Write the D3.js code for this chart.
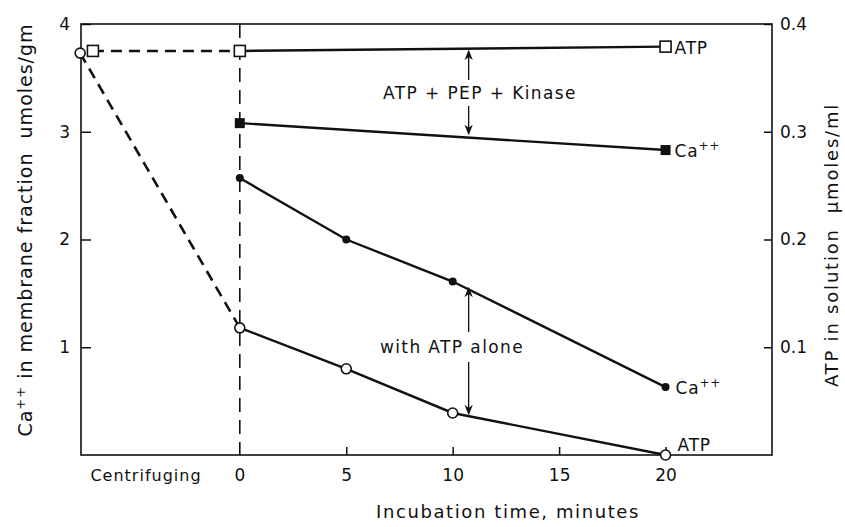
<!DOCTYPE html>
<html><head><meta charset="utf-8">
<script src="https://cdn.jsdelivr.net/npm/d3@7"></script>
<style>
html,body{margin:0;padding:0;background:#fff;}
svg text{font-family:"DejaVu Sans","Liberation Sans",sans-serif;fill:#111;}
</style></head>
<body><svg id="c" width="845" height="527"></svg>
<script>
// ---- data ----
const xTicks = [0, 5, 10, 15, 20];
const leftTicks = [1, 2, 3, 4];
const rightTicks = [0.1, 0.2, 0.3, 0.4];
const centrifugingLabel = "Centrifuging";
// ATP with PEP + kinase (right axis, µmoles/ml), open squares
const atpKinaseX = [-6.9, 0, 20];
const atpKinaseY = [0.375, 0.375, 0.379];
// Ca++ with PEP + kinase (left axis, µmoles/gm), filled squares
const caKinaseX = [0, 20];
const caKinaseY = [3.08, 2.83];
// Ca++ with ATP alone, filled circles
const caAloneX = [0, 5, 10, 20];
const caAloneY = [2.57, 2.0, 1.61, 0.63];
// ATP alone (right axis), open circles
const atpAloneX = [-7.5, 0, 5, 10, 20];
const atpAloneY = [0.373, 0.118, 0.080, 0.039, 0.0];

const svg = d3.select("#c");
const L = 81, R = 772, T = 24, B = 455;
const x = d3.scaleLinear().domain([-7.46, 25]).range([L, R]);
const yL = d3.scaleLinear().domain([0, 4]).range([B, T]);
const yR = d3.scaleLinear().domain([0, 0.4]).range([B, T]);

// frame
svg.append("rect").attr("x", L).attr("y", T).attr("width", R - L).attr("height", B - T)
  .attr("fill", "none").attr("stroke", "#111").attr("stroke-width", 1.6);

// axes
const fs = "17px";
const gl = svg.append("g").attr("transform", `translate(${L},0)`)
  .call(d3.axisLeft(yL).tickValues(leftTicks).tickSize(-10).tickPadding(11).tickFormat(d3.format("d")));
const gr = svg.append("g").attr("transform", `translate(${R},0)`)
  .call(d3.axisRight(yR).tickValues(rightTicks).tickSize(-8).tickPadding(8).tickFormat(d3.format(".1f")));
const gb = svg.append("g").attr("transform", `translate(0,${B})`)
  .call(d3.axisBottom(x).tickValues(xTicks.slice(1)).tickSize(-8).tickPadding(16).tickFormat(d3.format("d")));
[gl, gr, gb].forEach(g => {
  g.select(".domain").remove();
  g.selectAll(".tick line").attr("stroke", "#111").attr("stroke-width", 1.5);
  g.selectAll(".tick text").style("font-size", fs).attr("font-family", null).attr("fill", "#111");
});
gb.selectAll(".tick text").attr("dy", null).attr("y", 26);
svg.append("text").attr("x", x(0)).attr("y", B + 26).attr("text-anchor", "middle").style("font-size", fs).text(xTicks[0]);
svg.append("text").attr("x", 146).attr("y", B + 26).attr("text-anchor", "middle")
  .style("font-size", "16px").style("letter-spacing", "1px").text(centrifugingLabel);

// titles
svg.append("text").attr("x", 508).attr("y", 518).attr("text-anchor", "middle")
  .style("font-size", "18px").style("letter-spacing", "1.6px").text("Incubation time, minutes");
const lt = svg.append("text").attr("transform", "translate(32,230) rotate(-90)").attr("text-anchor", "middle")
  .style("font-size", "19px").style("letter-spacing", "1px");
lt.append("tspan").text("Ca");
lt.append("tspan").attr("dy", -7).style("font-size", "13px").text("++");
lt.append("tspan").attr("dy", 7).text(" in membrane fraction\u00a0\u00a0umoles/gm");
svg.append("text").attr("transform", "translate(838,245) rotate(-90)").attr("text-anchor", "middle")
  .style("font-size", "18px").style("letter-spacing", "1.8px").text("ATP in solution\u00a0\u00a0μmoles/ml");

// vertical dashed line at time 0
svg.append("line").attr("x1", x(0)).attr("x2", x(0)).attr("y1", T).attr("y2", B)
  .attr("stroke", "#111").attr("stroke-width", 1.6).attr("stroke-dasharray", "14,8");

function series(xs, ys, yScale, dashedFirst) {
  const pts = xs.map((v, i) => [x(v), yScale(ys[i])]);
  const line = d3.line();
  if (dashedFirst) {
    svg.append("path").attr("d", line(pts.slice(0, 2))).attr("fill", "none")
      .attr("stroke", "#111").attr("stroke-width", 2.6).attr("stroke-dasharray", "11,7");
    svg.append("path").attr("d", line(pts.slice(1))).attr("fill", "none")
      .attr("stroke", "#111").attr("stroke-width", 2.4);
  } else {
    svg.append("path").attr("d", line(pts)).attr("fill", "none")
      .attr("stroke", "#111").attr("stroke-width", 2.4);
  }
  return pts;
}

const pAK = series(atpKinaseX, atpKinaseY, yR, true);
const pCK = series(caKinaseX, caKinaseY, yL, false);
const pCA = series(caAloneX, caAloneY, yL, false);
const pAA = series(atpAloneX, atpAloneY, yR, true);

svg.selectAll(".sqo").data(pAK).join("rect").attr("x", d => d[0] - 5.5).attr("y", d => d[1] - 5.5)
  .attr("width", 11).attr("height", 11).attr("fill", "#fff").attr("stroke", "#111").attr("stroke-width", 1.6);
svg.selectAll(".sqf").data(pCK).join("rect").attr("x", d => d[0] - 5).attr("y", d => d[1] - 5)
  .attr("width", 10).attr("height", 10).attr("fill", "#111");
svg.selectAll(".cf").data(pCA).join("circle").attr("cx", d => d[0]).attr("cy", d => d[1]).attr("r", 4).attr("fill", "#111");
svg.selectAll(".co").data(pAA).join("circle").attr("cx", d => d[0]).attr("cy", d => d[1]).attr("r", 5)
  .attr("fill", "#fff").attr("stroke", "#111").attr("stroke-width", 1.6);

// end labels
function endLabel(px, py, base) {
  const t = svg.append("text").attr("x", px).attr("y", py).style("font-size", "17px").style("letter-spacing", "0.8px");
  t.append("tspan").text(base);
  return t;
}
const last = a => a[a.length - 1];
endLabel(last(pAK)[0] + 9, last(pAK)[1] + 7, "ATP");
const c1 = endLabel(last(pCK)[0] + 9, last(pCK)[1] + 7, "Ca");
c1.append("tspan").attr("dy", -7).style("font-size", "12px").text("++");
const c2 = endLabel(last(pCA)[0] + 10, last(pCA)[1] + 7, "Ca");
c2.append("tspan").attr("dy", -7).style("font-size", "12px").text("++");
endLabel(last(pAA)[0] + 12, last(pAA)[1] - 4, "ATP");

// annotations with arrows
svg.append("defs").append("marker").attr("id", "ah").attr("viewBox", "0 0 10 10").attr("refX", 9).attr("refY", 5)
  .attr("markerWidth", 8).attr("markerHeight", 8).attr("orient", "auto-start-reverse")
  .append("path").attr("d", "M0,1 L10,5 L0,9 L3,5 Z").attr("fill", "#111");
function arrow(xp, y1, y2) {
  svg.append("line").attr("x1", xp).attr("x2", xp).attr("y1", y1).attr("y2", y2)
    .attr("stroke", "#111").attr("stroke-width", 1.3).attr("marker-end", "url(#ah)");
}
const ax = x(10.75);
svg.append("text").attr("x", 480).attr("y", 99).attr("text-anchor", "middle").style("font-size", "17px")
  .style("letter-spacing", "1.4px").text("ATP + PEP + Kinase");
arrow(ax, 80, yR(0.377) + 2);
arrow(ax, 106, yL(2.96) - 2);
svg.append("text").attr("x", 452).attr("y", 353).attr("text-anchor", "middle").style("font-size", "17px")
  .style("letter-spacing", "1.4px").text("with ATP alone");
arrow(ax, 332, yL(1.57) + 2);
arrow(ax, 362, yR(0.036) - 2);
</script></body></html>
